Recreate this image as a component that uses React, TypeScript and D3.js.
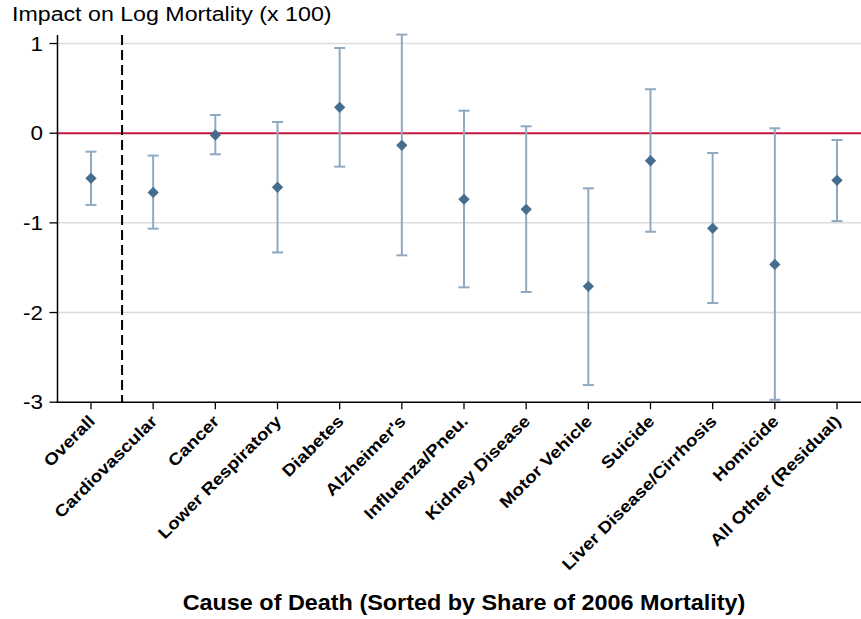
import React from "react";
import * as d3 from "d3";

const categories = [
  "Overall", "Cardiovascular", "Cancer", "Lower Respiratory", "Diabetes",
  "Alzheimer's", "Influenza/Pneu.", "Kidney Disease", "Motor Vehicle",
  "Suicide", "Liver Disease/Cirrhosis", "Homicide", "All Other (Residual)",
];
const estimates = [-0.503, -0.66, -0.02, -0.603, 0.289, -0.135, -0.737, -0.849, -1.708, -0.307, -1.061, -1.463, -0.526];
const upper = [-0.206, -0.25, 0.203, 0.125, 0.95, 1.1, 0.251, 0.077, -0.615, 0.49, -0.221, 0.055, -0.076];
const lower = [-0.8, -1.065, -0.235, -1.33, -0.373, -1.362, -1.719, -1.771, -2.809, -1.099, -1.894, -2.973, -0.98];
const yTicks = [1, 0, -1, -2, -3];
const gridValues = [1, -1, -2];

const W = 861;
const H = 619;
const FONT = "'Liberation Sans', Arial, Helvetica, sans-serif";

export default function App() {
  const x = d3.scaleLinear().domain([0, 12]).range([91, 837]);
  const y = d3.scaleLinear().domain([0, -3]).range([133.2, 402.2]);
  const axisLeft = 57.5;
  const axisBottom = y(-3);
  const plotTop = 35;
  const plotRight = W;
  const dashX = x(0.5);
  const diamond = d3.symbol().type(d3.symbolSquare).size(64)();
  const whisker = "#8fa9c1";
  const marker = "#466d8e";

  return (
    <svg width={W} height={H} style={{ position: "absolute", left: 0, top: 0, background: "#fff" }} fontFamily={FONT}>
      {/* title */}
      <text transform={`translate(12,21) scale(1.16,1)`} fontSize={20} fill="#000">Impact on Log Mortality (x 100)</text>
      {/* grid */}
      {gridValues.map((v) => (
        <line key={"g" + v} x1={axisLeft} x2={plotRight} y1={y(v)} y2={y(v)} stroke="#dcdcdc" strokeWidth={1.5} />
      ))}
      {/* zero line */}
      <line x1={axisLeft} x2={plotRight} y1={y(0)} y2={y(0)} stroke="#c3173f" strokeWidth={2} />
      {/* dashed separator */}
      <line x1={dashX} x2={dashX} y1={plotTop} y2={axisBottom} stroke="#000" strokeWidth={2} strokeDasharray="10,5" />
      {/* y axis */}
      <line x1={axisLeft} x2={axisLeft} y1={plotTop} y2={axisBottom} stroke="#000" strokeWidth={1.5} />
      {yTicks.map((v) => (
        <g key={"t" + v}>
          <line x1={axisLeft - 8} x2={axisLeft} y1={y(v)} y2={y(v)} stroke="#000" strokeWidth={1.3} />
          <text transform={`translate(43,${y(v) + 7}) scale(1.15,1)`} fontSize={19.5} textAnchor="end" fill="#000">{v}</text>
        </g>
      ))}
      {/* x axis */}
      <line x1={axisLeft - 0.75} x2={plotRight} y1={axisBottom} y2={axisBottom} stroke="#000" strokeWidth={1.5} />
      {categories.map((c, i) => (
        <g key={"c" + i}>
          <line x1={x(i)} x2={x(i)} y1={axisBottom} y2={axisBottom + 7} stroke="#000" strokeWidth={1.3} />
          <text transform={`translate(${x(i) + 5},${axisBottom + 20}) rotate(-45) scale(1.15,1)`} fontSize={16.5} fontWeight="bold" textAnchor="end" fill="#000">{c}</text>
        </g>
      ))}
      {/* error bars */}
      {categories.map((c, i) => (
        <g key={"e" + i} stroke={whisker} strokeWidth={2}>
          <line x1={x(i)} x2={x(i)} y1={y(upper[i])} y2={y(lower[i])} />
          <line x1={x(i) - 5.5} x2={x(i) + 5.5} y1={y(upper[i])} y2={y(upper[i])} />
          <line x1={x(i) - 5.5} x2={x(i) + 5.5} y1={y(lower[i])} y2={y(lower[i])} />
        </g>
      ))}
      {/* points */}
      {categories.map((c, i) => (
        <path key={"p" + i} d={diamond} transform={`translate(${x(i)},${y(estimates[i])}) rotate(45)`} fill={marker} />
      ))}
      {/* x title */}
      <text transform={`translate(464,610) scale(1.04,1)`} fontSize={22.5} fontWeight="bold" textAnchor="middle" fill="#000">Cause of Death (Sorted by Share of 2006 Mortality)</text>
    </svg>
  );
}
